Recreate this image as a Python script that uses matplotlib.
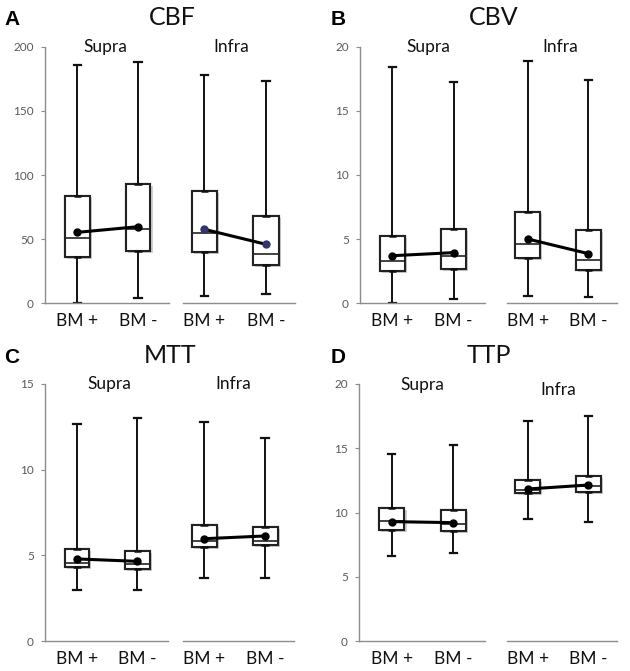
import matplotlib
matplotlib.use("Agg")
import matplotlib.pyplot as plt
import matplotlib.patheffects as pe

plt.rcParams['font.family'] = ['Lato', 'DejaVu Sans']

# box statistics
# order: Supra BM+, Supra BM-, Infra BM+, Infra BM-
titles = ["CBF", "CBV", "MTT", "TTP"]
letters = ["A", "B", "C", "D"]
groups = ["Supra", "Infra"]
xlabels = ["BM +", "BM -"]
ymax = [200, 20, 15, 20]
ystep = [50, 5, 5, 5]

cbf_hi = [186.0, 188.3, 177.7, 173.2]
cbf_q3 = [83.9, 93.2, 87.8, 67.8]
cbf_med = [51.1, 57.9, 55.1, 38.7]
cbf_q1 = [35.8, 41.0, 40.0, 29.9]
cbf_lo = [0.5, 3.9, 6.0, 7.0]
cbf_mean = [55.3, 59.7, 57.7, 46.0]

cbv_hi = [18.4, 17.25, 18.9, 17.4]
cbv_q3 = [5.25, 5.77, 7.12, 5.71]
cbv_med = [3.3, 3.71, 4.62, 3.37]
cbv_q1 = [2.49, 2.65, 3.5, 2.62]
cbv_lo = [0.05, 0.3, 0.6, 0.52]
cbv_mean = [3.71, 3.95, 5.01, 3.87]

mtt_hi = [12.69, 13.0, 12.77, 11.87]
mtt_q3 = [5.37, 5.25, 6.75, 6.64]
mtt_med = [4.57, 4.51, 5.86, 5.86]
mtt_q1 = [4.3, 4.18, 5.51, 5.62]
mtt_lo = [2.96, 2.96, 3.7, 3.7]
mtt_mean = [4.79, 4.65, 5.97, 6.13]

ttp_hi = [14.53, 15.25, 17.12, 17.53]
ttp_q3 = [10.38, 10.17, 12.5, 12.87]
ttp_med = [9.31, 9.1, 11.78, 12.04]
ttp_q1 = [8.66, 8.58, 11.49, 11.62]
ttp_lo = [6.64, 6.85, 9.5, 9.24]
ttp_mean = [9.29, 9.21, 11.83, 12.14]

data = [
    (cbf_lo, cbf_q1, cbf_med, cbf_q3, cbf_hi, cbf_mean),
    (cbv_lo, cbv_q1, cbv_med, cbv_q3, cbv_hi, cbv_mean),
    (mtt_lo, mtt_q1, mtt_med, mtt_q3, mtt_hi, mtt_mean),
    (ttp_lo, ttp_q1, ttp_med, ttp_q3, ttp_hi, ttp_mean),
]

W, H = 630, 671
fig = plt.figure(figsize=(W / 100, H / 100), dpi=100)


def rect(x0, x1, ytop, ybot):
    return [x0 / W, 1 - ybot / H, (x1 - x0) / W, (ybot - ytop) / H]


# pixel layout of each panel: supra x-range, infra x-range, top, bottom
layout = [
    ((45, 169), (183, 295), 46.7, 303.3),
    ((360, 485), (507, 617), 46.7, 303.3),
    ((45, 168), (183, 294), 384, 641),
    ((359, 485), (507, 617), 384, 641),
]
# where boxes sit along each sub-axis (axes fraction of BM+, BM-)
box_pos = [(0.26, 0.75), (0.19, 0.74)]

grey = "#8c8c8c"
txt = "#595959"

for p in range(4):
    lo, q1, med, q3, hi, mean = data[p]
    (sx0, sx1), (ix0, ix1), ytop, ybot = layout[p]
    for g, (x0, x1) in enumerate([(sx0, sx1), (ix0, ix1)]):
        ax = fig.add_axes(rect(x0, x1, ytop, ybot))
        a, b = box_pos[g]
        unit = 1 / (b - a)
        ax.set_xlim(1 - a * unit, 1 + (1 - a) * unit)
        ax.set_ylim(0, ymax[p])
        idx = [2 * g, 2 * g + 1]
        stats = []
        for i in idx:
            stats.append(dict(whislo=lo[i], q1=q1[i], med=med[i], q3=q3[i],
                              whishi=hi[i], fliers=[]))
        bp = ax.bxp(stats, positions=[1, 2], widths=0.41, patch_artist=True,
                    showfliers=False, capwidths=0.12,
                    boxprops=dict(facecolor="white", edgecolor="#222222", lw=1.5),
                    whiskerprops=dict(color="#111111", lw=1.4),
                    capprops=dict(color="#111111", lw=1.6),
                    medianprops=dict(color="#222222", lw=1.2))
        for box in bp["boxes"]:
            box.set_path_effects([pe.withSimplePatchShadow(offset=(1.5, -1.5),
                                                           shadow_rgbFace="#777777",
                                                           alpha=0.35), pe.Normal()])
        # small caps where whiskers meet the box
        for k, i in enumerate(idx):
            ax.hlines([q1[i], q3[i]], k + 1 - 0.06, k + 1 + 0.06, color="#111111", lw=1.8, zorder=3)
        mc = "#33336e" if (p == 0 and g == 1) else "black"
        ax.plot([1, 2], [mean[i] for i in idx], color="black", lw=2.2, zorder=4)
        ax.plot([1, 2], [mean[i] for i in idx], "o", color=mc, ms=5, zorder=5)

        ax.set_xticks([1, 2])
        ax.set_xticklabels(xlabels, fontsize=12.5, color="#111111")
        ax.tick_params(axis="x", length=0, pad=7)
        for s in ["top", "right"]:
            ax.spines[s].set_visible(False)
        ax.spines["bottom"].set_color(grey)
        ax.spines["bottom"].set_linewidth(1.0)
        if g == 0:
            ax.spines["left"].set_color(grey)
            ax.spines["left"].set_linewidth(1.0)
            ax.set_yticks(range(0, ymax[p] + 1, ystep[p]))
            ax.tick_params(axis="y", length=3, width=0.8, color=grey,
                           labelsize=8.5, labelcolor=txt, pad=5)
        else:
            ax.spines["left"].set_visible(False)
            ax.set_yticks([])
        ax.patch.set_alpha(0)

# titles, panel letters, group labels (pixel positions)
title_x = [172, 494, 170, 489]
title_y = [25, 25, 363, 363]
letter_x = [4, 331, 4, 331]
group_x = [(105, 231), (428, 560), (109, 233), (422, 558)]
group_y = [(52, 52), (52, 52), (389, 389), (390, 395)]

for p in range(4):
    fig.text(title_x[p] / W, 1 - title_y[p] / H, titles[p], ha="center",
             va="baseline", fontsize=18, color="#111111")
    fig.text(letter_x[p] / W, 1 - title_y[p] / H, letters[p], ha="left",
             va="baseline", fontsize=15, fontweight="bold",
             family=["Liberation Sans", "DejaVu Sans"])
    for g in range(2):
        fig.text(group_x[p][g] / W, 1 - group_y[p][g] / H, groups[g],
                 ha="center", va="baseline", fontsize=12.5, color="#111111")

fig.savefig("out.png", dpi=100, facecolor="white")
